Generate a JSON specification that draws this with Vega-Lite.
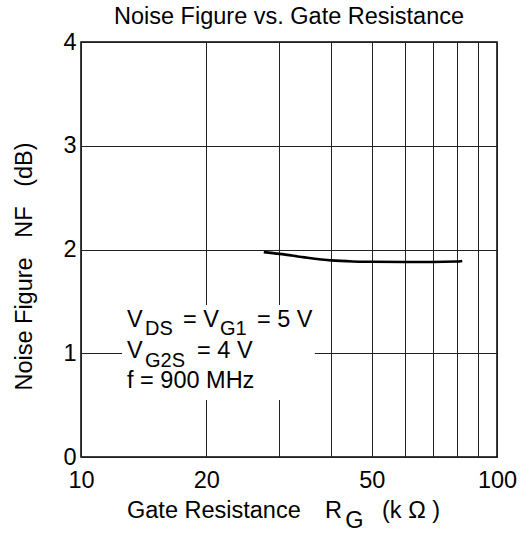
{
  "$schema": "https://vega.github.io/schema/vega-lite/v6.json",
  "width": 416,
  "height": 415,
  "autosize": {"type": "none"},
  "padding": {"left": 81, "top": 42, "right": 35, "bottom": 78},
  "background": "white",
  "config": {
    "font": "Liberation Sans",
    "view": {"stroke": "black", "strokeWidth": 1.5},
    "axis": {"domain": false, "ticks": false, "gridColor": "#222", "gridWidth": 1, "gridOpacity": 1, "labelFont": "Liberation Sans", "labelFontSize": 23.5, "labelColor": "black", "titleFont": "Liberation Sans", "titleFontSize": 23.5, "titleFontWeight": "normal", "titleColor": "black"}
  },
  "title": {"text": "Noise Figure vs. Gate Resistance", "fontSize": 23.5, "fontWeight": "normal", "font": "Liberation Sans", "color": "black", "anchor": "middle", "offset": 2},
  "encoding": {
    "x": {"field": "x", "type": "quantitative", "scale": {"type": "log", "domain": [10, 100], "nice": false},
      "axis": {"values": [10, 20, 30, 40, 50, 60, 70, 80, 90, 100], "format": "d", "labelExpr": "indexof([10,20,50,100], datum.value) >= 0 ? datum.label : ''", "labelPadding": 11, "title": null, "labelFlush": false}},
    "y": {"field": "y", "type": "quantitative", "scale": {"domain": [0, 4], "nice": false, "zero": false},
      "axis": {"values": [0, 0.5, 1, 1.5, 2, 2.5, 3, 3.5, 4], "format": "d", "labelExpr": "datum.value % 1 === 0 ? datum.label : ''", "labelPadding": 5, "title": "Noise Figure\u00a0\u00a0\u00a0NF\u00a0\u00a0\u00a0(dB)", "titlePadding": 26, "titleY": 224, "labelFlush": false}}
  },
  "layer": [
    {
      "data": {"values": [{"x": 12.55, "x2": 36.5, "y": 0.55, "y2": 1.465}]},
      "mark": {"type": "rect", "fill": "white", "stroke": null},
      "encoding": {"x2": {"field": "x2"}, "y2": {"field": "y2"}}
    },
    {
      "data": {"values": [
        {"x": 27.5, "y": 1.975},
        {"x": 30, "y": 1.958},
        {"x": 35, "y": 1.92},
        {"x": 40, "y": 1.895},
        {"x": 45, "y": 1.885},
        {"x": 50, "y": 1.882},
        {"x": 60, "y": 1.88},
        {"x": 70, "y": 1.88},
        {"x": 80, "y": 1.884},
        {"x": 82.5, "y": 1.89}
      ]},
      "mark": {"type": "line", "color": "black", "strokeWidth": 2.6, "interpolate": "monotone"}
    },
    {
      "data": {"values": [
        {"x": 12.9, "y": 1.256, "text": "V"},
        {"x": 17.59, "y": 1.256, "text": "= V"},
        {"x": 26.49, "y": 1.256, "text": "= 5 V"},
        {"x": 12.9, "y": 0.954, "text": "V"},
        {"x": 19.01, "y": 0.954, "text": "= 4 V"},
        {"x": 12.9, "y": 0.665, "text": "f = 900 MHz"}
      ]},
      "mark": {"type": "text", "align": "left", "baseline": "alphabetic", "fontSize": 23.5, "color": "black"},
      "encoding": {"text": {"field": "text"}}
    },
    {
      "data": {"values": [
        {"x": 14.25, "y": 1.176, "text": "DS"},
        {"x": 21.59, "y": 1.176, "text": "G1"},
        {"x": 14.25, "y": 0.87, "text": "G2S"}
      ]},
      "mark": {"type": "text", "align": "left", "baseline": "alphabetic", "fontSize": 20, "color": "black"},
      "encoding": {"text": {"field": "text"}}
    },
    {
      "data": {"values": [
        {"x": 12.9, "y": -0.588, "text": "Gate Resistance"},
        {"x": 38.6, "y": -0.588, "text": "R"},
        {"x": 43.16, "y": -0.684, "text": "G"},
        {"x": 52.92, "y": -0.588, "text": "(k Ω )"}
      ]},
      "mark": {"type": "text", "align": "left", "baseline": "alphabetic", "fontSize": 23.5, "color": "black"},
      "encoding": {"text": {"field": "text"}}
    }
  ]
}
